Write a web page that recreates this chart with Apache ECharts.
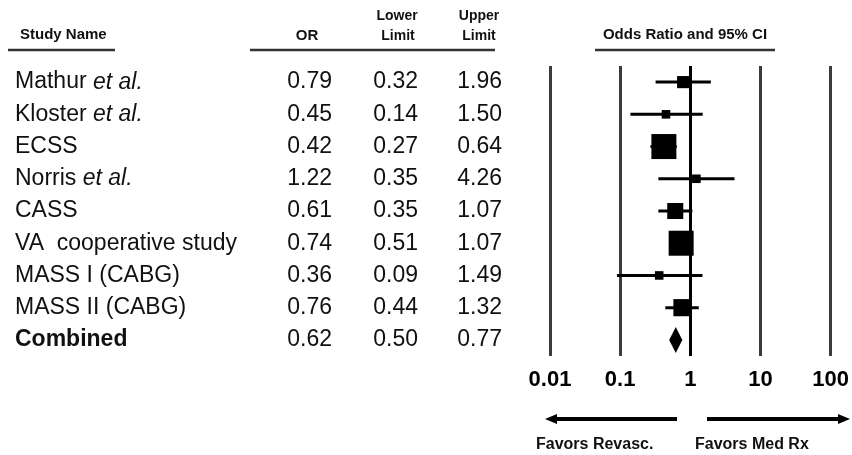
<!DOCTYPE html>
<html>
<head>
<meta charset="utf-8">
<script src="https://cdn.jsdelivr.net/npm/echarts@6/dist/echarts.min.js"></script>
<style>
  html, body { margin: 0; padding: 0; background: #fff; }
  #chart { width: 852px; height: 455px; }
</style>
</head>
<body>
<div id="chart"></div>
<script>
// Studies in the meta-analysis (last row is the pooled estimate)
const studies = ['Mathur et al.', 'Kloster et al.', 'ECSS', 'Norris et al.', 'CASS',
  'VA  cooperative study', 'MASS I (CABG)', 'MASS II (CABG)', 'Combined'];
const oddsRatio  = [0.79, 0.45, 0.42, 1.22, 0.61, 0.74, 0.36, 0.76, 0.62];
const lowerLimit = [0.32, 0.14, 0.27, 0.35, 0.35, 0.51, 0.09, 0.44, 0.50];
const upperLimit = [1.96, 1.50, 0.64, 4.26, 1.07, 1.07, 1.49, 1.32, 0.77];
// Relative study weights (%); box area is proportional to weight
const weights = [4, 2, 17, 2, 7, 17, 2, 8];
const xTicks = [0.01, 0.1, 1, 10, 100];
const xTickLabels = ['0.01', '0.1', '1', '10', '100'];

const FONT = '"Liberation Sans", Arial, Helvetica, sans-serif';
const nStudies = studies.length - 1;
const BOX_MAX = 25; // px side of the heaviest study's box
const maxW = Math.max.apply(null, weights);

function nameLabel(name) {
  if (name === 'Combined') return '{b|' + name + '}';
  const k = name.indexOf(' et al.');
  if (k >= 0) return name.slice(0, k) + ' {it|et al.}';
  return name;
}

function valueAxis(values, margin) {
  return {
    type: 'category', data: values.map(v => v.toFixed(2)), inverse: true, position: 'left',
    axisLine: { show: false }, axisTick: { show: false }, splitLine: { show: false },
    axisLabel: { interval: 0, margin: margin, fontSize: 23, color: '#111', fontFamily: FONT }
  };
}

const chart = echarts.init(document.getElementById('chart'), null, { renderer: 'canvas' });

const option = {
  animation: false,
  backgroundColor: '#fff',
  grid: { left: 550, right: 20, top: 66, height: 290 },
  xAxis: {
    type: 'log', logBase: 10, min: 0.01, max: 100,
    axisLine: { show: false }, axisTick: { show: false },
    splitLine: { show: true, lineStyle: { color: ['#3c3c3c', '#3c3c3c', '#000', '#3c3c3c', '#3c3c3c'], width: 3 } },
    axisLabel: {
      margin: 13, fontSize: 22, fontWeight: 'bold', color: '#000', fontFamily: FONT,
      formatter: function (v) {
        const idx = xTicks.findIndex(t => Math.abs(Math.log10(t) - Math.log10(v)) < 1e-6);
        return idx >= 0 ? xTickLabels[idx] : '';
      }
    }
  },
  yAxis: [
    {
      type: 'category', data: studies, inverse: true, position: 'left',
      axisLine: { show: false }, axisTick: { show: false }, splitLine: { show: false },
      axisLabel: {
        interval: 0, margin: 535, align: 'left', fontSize: 23, color: '#111', fontFamily: FONT,
        formatter: nameLabel,
        rich: {
          it: { fontStyle: 'italic', fontSize: 23, color: '#111', fontFamily: FONT },
          b: { fontWeight: 'bold', fontSize: 23, color: '#111', fontFamily: FONT }
        }
      }
    },
    valueAxis(oddsRatio, 218),
    valueAxis(lowerLimit, 132),
    valueAxis(upperLimit, 48)
  ],
  series: [
    {
      // study boxes with 95% CI whiskers
      type: 'custom', xAxisIndex: 0, yAxisIndex: 0,
      data: weights.map((w, i) => [oddsRatio[i], lowerLimit[i], upperLimit[i], i, w]),
      encode: { x: [0, 1, 2], y: 3 },
      renderItem: function (params, api) {
        const row = api.value(3);
        const c = api.coord([api.value(0), row]);
        const lo = api.coord([api.value(1), row]);
        const hi = api.coord([api.value(2), row]);
        const s = Math.sqrt(api.value(4) / maxW) * BOX_MAX;
        return {
          type: 'group',
          children: [
            { type: 'line', shape: { x1: lo[0], y1: lo[1], x2: hi[0], y2: hi[1] }, style: { stroke: '#000', lineWidth: 3 } },
            { type: 'rect', shape: { x: c[0] - s / 2, y: c[1] - s / 2, width: s, height: s }, style: { fill: '#000' } }
          ]
        };
      }
    },
    {
      // pooled estimate diamond
      type: 'custom', xAxisIndex: 0, yAxisIndex: 0,
      data: [[oddsRatio[nStudies], lowerLimit[nStudies], upperLimit[nStudies], nStudies]],
      encode: { x: [0, 1, 2], y: 3 },
      renderItem: function (params, api) {
        const row = api.value(3);
        const c = api.coord([api.value(0), row]);
        const lo = api.coord([api.value(1), row]);
        const hi = api.coord([api.value(2), row]);
        const h = 13;
        return {
          type: 'polygon',
          shape: { points: [[lo[0], c[1]], [c[0], c[1] - h], [hi[0], c[1]], [c[0], c[1] + h]] },
          style: { fill: '#000' }
        };
      }
    }
  ],
  graphic: [
    // column headers
    { type: 'text', left: 20, top: 27, style: { text: 'Study Name', font: 'bold 15px ' + FONT, fill: '#111' } },
    { type: 'line', shape: { x1: 8, y1: 50, x2: 115, y2: 50 }, style: { stroke: '#333', lineWidth: 2.5 } },
    { type: 'text', x: 307, y: 36, style: { text: 'OR', font: 'bold 15px ' + FONT, fill: '#111', align: 'center', verticalAlign: 'middle' } },
    { type: 'text', x: 397, y: 16, style: { text: 'Lower', font: 'bold 14px ' + FONT, fill: '#111', align: 'center', verticalAlign: 'middle' } },
    { type: 'text', x: 398, y: 36, style: { text: 'Limit', font: 'bold 14px ' + FONT, fill: '#111', align: 'center', verticalAlign: 'middle' } },
    { type: 'text', x: 479, y: 16, style: { text: 'Upper', font: 'bold 14px ' + FONT, fill: '#111', align: 'center', verticalAlign: 'middle' } },
    { type: 'text', x: 479, y: 36, style: { text: 'Limit', font: 'bold 14px ' + FONT, fill: '#111', align: 'center', verticalAlign: 'middle' } },
    { type: 'line', shape: { x1: 250, y1: 50, x2: 495, y2: 50 }, style: { stroke: '#333', lineWidth: 2.5 } },
    { type: 'text', x: 685, y: 35, style: { text: 'Odds Ratio and 95% CI', font: 'bold 15px ' + FONT, fill: '#111', align: 'center', verticalAlign: 'middle' } },
    { type: 'line', shape: { x1: 595, y1: 50, x2: 775, y2: 50 }, style: { stroke: '#333', lineWidth: 2.5 } },
    // direction arrows
    { type: 'line', shape: { x1: 677, y1: 419, x2: 555, y2: 419 }, style: { stroke: '#000', lineWidth: 4 } },
    { type: 'polygon', shape: { points: [[545, 419], [557, 414], [557, 424]] }, style: { fill: '#000' } },
    { type: 'line', shape: { x1: 707, y1: 419, x2: 840, y2: 419 }, style: { stroke: '#000', lineWidth: 4 } },
    { type: 'polygon', shape: { points: [[850, 419], [838, 414], [838, 424]] }, style: { fill: '#000' } },
    { type: 'text', left: 536, top: 437, style: { text: 'Favors Revasc.', font: 'bold 16px ' + FONT, fill: '#111' } },
    { type: 'text', left: 695, top: 437, style: { text: 'Favors Med Rx', font: 'bold 16px ' + FONT, fill: '#111' } }
  ]
};

chart.setOption(option);
</script>
</body>
</html>
